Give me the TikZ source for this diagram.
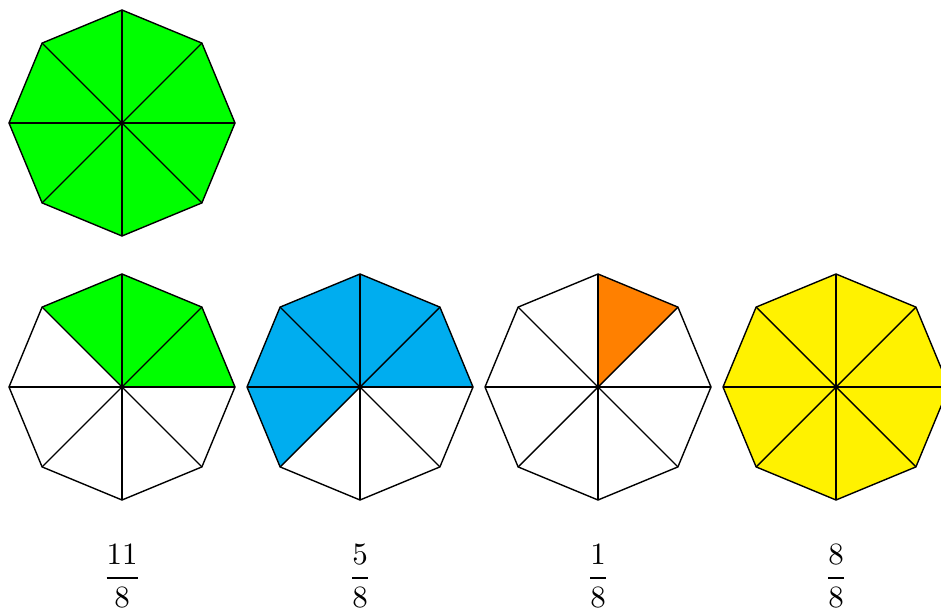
\documentclass[tikz,border=0pt]{standalone}
\usepackage{amsmath}
\definecolor{fgreen}{RGB}{0,255,0}
\definecolor{fblue}{RGB}{0,173,239}
\definecolor{forange}{RGB}{255,128,0}
\definecolor{fyellow}{RGB}{255,242,0}
\tikzset{
  octline/.style={draw=black,line width=0.45pt,line join=miter},
  fraclabel/.style={anchor=base,inner sep=0pt}
}
% #1 center, #2 number of filled sectors, #3 fill colour, #4 start sector
\newcommand{\octfrac}[4]{%
  \ifnum#2>0
  \foreach \k in {1,...,#2}{%
    \pgfmathsetmacro{\a}{(#4+\k-1)*45}%
    \pgfmathsetmacro{\b}{(#4+\k)*45}%
    \fill[#3] (#1) -- ++(\a:113) -- ($(#1)+(\b:113)$) -- cycle;
  }%
  \fi
  \draw[octline] ($(#1)+(0:113)$) \foreach \t in {45,90,...,315}{ -- ($(#1)+(\t:113)$)} -- cycle;
  \foreach \t in {0,45,90,135}{\draw[octline] ($(#1)+(\t:113)$) -- ($(#1)+(\t+180:113)$);}
}
\usetikzlibrary{calc}
\begin{document}
\begin{tikzpicture}[x=0.3226pt,y=0.3226pt]
\useasboundingbox (0,0) rectangle (941,608);
\coordinate (c0) at (122,485);
\coordinate (c1) at (122,221);
\coordinate (c2) at (360,221);
\coordinate (c3) at (598,221);
\coordinate (c4) at (836,221);
\octfrac{c0}{8}{fgreen}{0}
\octfrac{c1}{3}{fgreen}{0}
\octfrac{c2}{5}{fblue}{0}
\octfrac{c3}{1}{forange}{1}
\octfrac{c4}{8}{fyellow}{0}
\node[fraclabel] (f1) at (122,22.25) {$\dfrac{11}{8}$};
\node[fraclabel] (f2) at (360,22.25) {$\dfrac{5}{8}$};
\node[fraclabel] (f3) at (598,22.25) {$\dfrac{1}{8}$};
\node[fraclabel] (f4) at (836,22.25) {$\dfrac{8}{8}$};
\end{tikzpicture}
\end{document}
